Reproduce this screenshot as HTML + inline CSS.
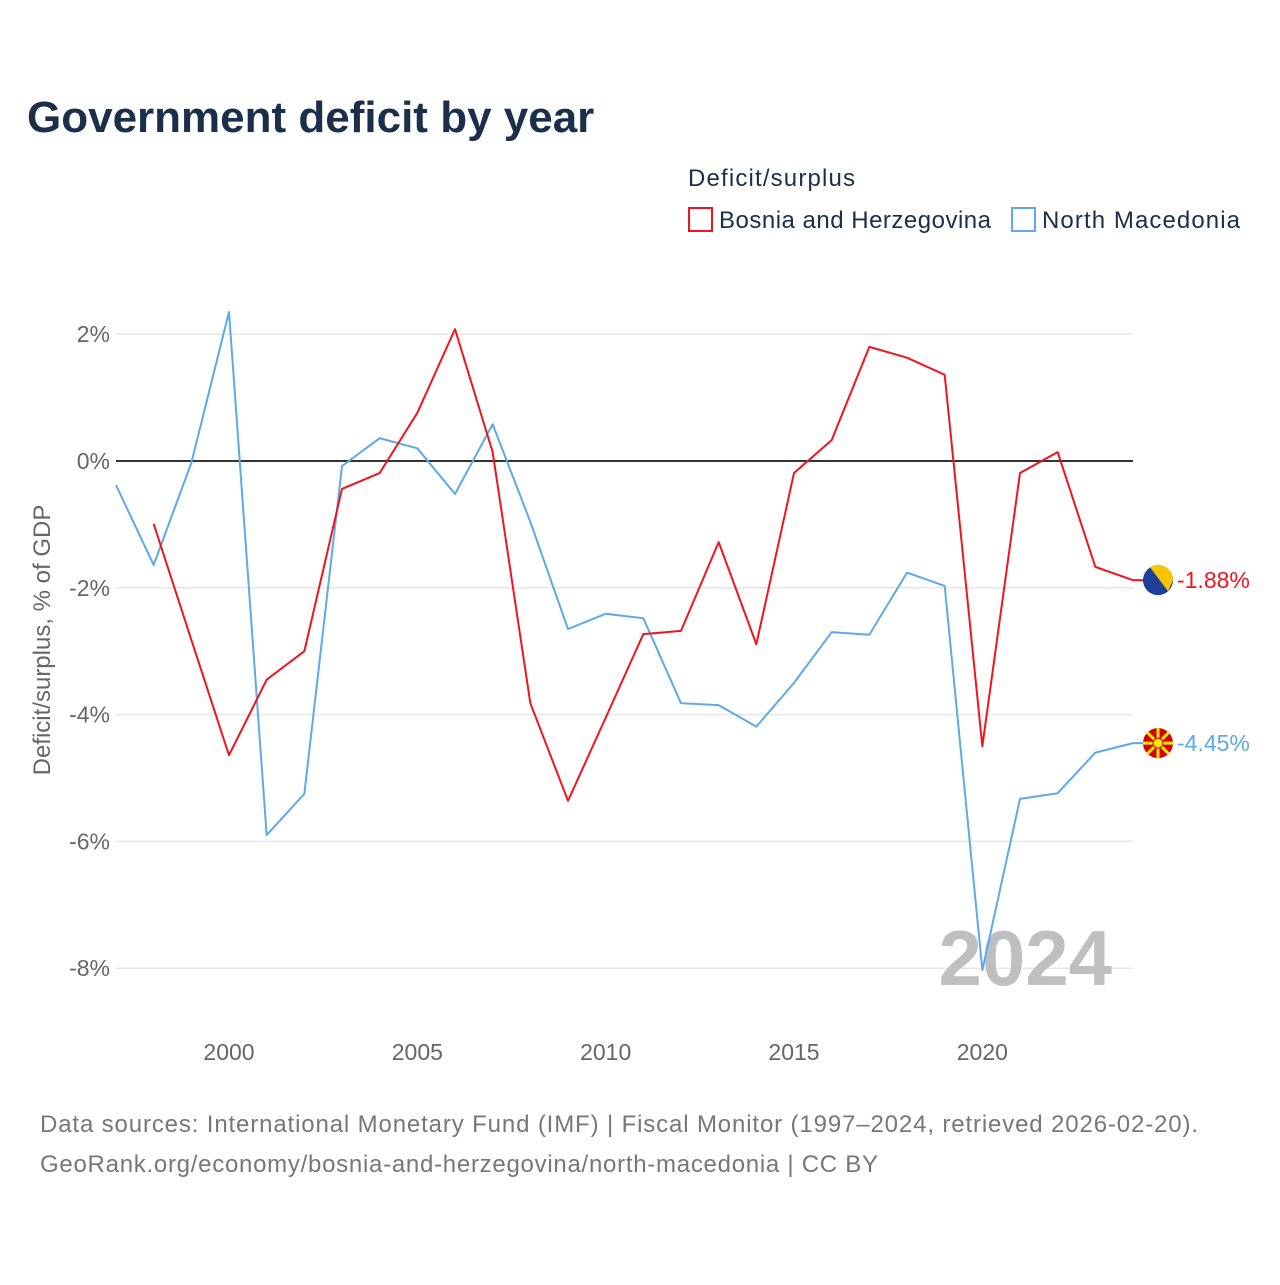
<!DOCTYPE html>
<html>
<head>
<meta charset="utf-8">
<style>
html,body{margin:0;padding:0;background:#fff;}
body{width:1280px;height:1280px;overflow:hidden;font-family:"Liberation Sans",sans-serif;}
</style>
</head>
<body>
<svg id="chart" width="1280" height="1280" xmlns="http://www.w3.org/2000/svg" font-family="Liberation Sans, sans-serif">
  <text x="27" y="132" font-size="44" font-weight="bold" fill="#1b2f4b">Government deficit by year</text>
  <text x="688" y="186" font-size="24" fill="#1b2f4b" textLength="167">Deficit/surplus</text>
  <g>
    <rect x="689" y="208" width="23" height="23" fill="none" stroke="#f0141e" stroke-width="2"/>
    <text x="719" y="228" font-size="24" fill="#1b2f4b" textLength="272">Bosnia and Herzegovina</text>
  </g>
  <g>
    <rect x="1012" y="208" width="23" height="23" fill="none" stroke="#5ea8ec" stroke-width="2"/>
    <text x="1042" y="228" font-size="24" fill="#1b2f4b" textLength="198">North Macedonia</text>
  </g>
  <g id="grid"></g>
  <g id="yticks"></g>
  <g id="xticks"></g>
  <text transform="translate(50,640) rotate(-90)" text-anchor="middle" font-size="24" fill="#666">Deficit/surplus, % of GDP</text>
  <text x="1112" y="985" text-anchor="end" font-size="78" font-weight="bold" fill="#bfbfbf">2024</text>
  <g id="series"></g>
  <g id="ends"></g>
  <text x="40" y="1132" font-size="24" fill="#777" textLength="1158">Data sources: International Monetary Fund (IMF) | Fiscal Monitor (1997–2024, retrieved 2026-02-20).</text>
  <text x="40" y="1172" font-size="24" fill="#777" textLength="838">GeoRank.org/economy/bosnia-and-herzegovina/north-macedonia | CC BY</text>
</svg>
<script>
const yTicks = [2, 0, -2, -4, -6, -8];
const xTickYears = [2000, 2005, 2010, 2015, 2020];
const macedoniaYears = [1997,1998,1999,2000,2001,2002,2003,2004,2005,2006,2007,2008,2009,2010,2011,2012,2013,2014,2015,2016,2017,2018,2019,2020,2021,2022,2023,2024];
const macedoniaValues = [-0.38,-1.64,-0.03,2.35,-5.9,-5.25,-0.08,0.36,0.2,-0.52,0.58,-0.96,-2.65,-2.41,-2.48,-3.82,-3.85,-4.19,-3.5,-2.7,-2.74,-1.76,-1.97,-8.03,-5.33,-5.24,-4.6,-4.45];
const bosniaYears = [1998,1999,2000,2001,2002,2003,2004,2005,2006,2007,2008,2009,2010,2011,2012,2013,2014,2015,2016,2017,2018,2019,2020,2021,2022,2023,2024];
const bosniaValues = [-0.99,-2.82,-4.64,-3.45,-3.0,-0.44,-0.19,0.76,2.08,0.14,-3.82,-5.36,-4.05,-2.73,-2.68,-1.28,-2.89,-0.19,0.33,1.8,1.63,1.36,-4.5,-0.19,0.14,-1.67,-1.88];

const NS='http://www.w3.org/2000/svg';
const X0=116, X1=1133, Y0=461, PPU=63.4;
const xs = yr => X0 + (yr-1997)*(X1-X0)/27;
const ys = v => Y0 - v*PPU;
function mk(tag, attrs, parent){const e=document.createElementNS(NS,tag);for(const k in attrs)e.setAttribute(k,attrs[k]);parent.appendChild(e);return e;}

const grid=document.getElementById('grid'), yt=document.getElementById('yticks'), xt=document.getElementById('xticks');
yTicks.forEach(v=>{
  if(v!==0){const l=mk('line',{x1:X0,x2:X1,y1:ys(v),y2:ys(v),stroke:'#e6e6e6','stroke-width':1.5},grid);
  
  }
  const t=mk('text',{x:110,y:ys(v)+8,'text-anchor':'end','font-size':23,fill:'#666'},yt);
  t.textContent=v+'%';
  
  
});
const zl=mk('line',{x1:X0,x2:X1,y1:ys(0),y2:ys(0),stroke:'#333','stroke-width':2},grid);


xTickYears.forEach(yr=>{
  const t=mk('text',{x:xs(yr),y:1060,'text-anchor':'middle','font-size':23,fill:'#666'},xt);
  t.textContent=yr;
  
  
});
const ser=document.getElementById('series');
function line(years, vals, color, name){
  const p=mk('polyline',{points:years.map((y,i)=>xs(y)+','+ys(vals[i])).join(' '),fill:'none',stroke:color,'stroke-width':2,'stroke-linejoin':'round'},ser);
  
  
}
line(macedoniaYears, macedoniaValues, '#5ea8ec', 'north-macedonia-line');
line(bosniaYears, bosniaValues, '#f0141e', 'bosnia-line');

const ends=document.getElementById('ends');
function endLabel(years, vals, color, name, flag){
  const v=vals[vals.length-1], y=ys(v), x=xs(years[years.length-1]);
  const ln=mk('line',{x1:x,x2:x+12,y1:y,y2:y,stroke:color,'stroke-width':2},ends);
  
  
  const g=mk('g',{},ends);
  
  
  flag(g, x+25, y);
  const t=mk('text',{x:x+44,y:y+8,'font-size':23,fill:color},ends);
  t.textContent=v.toFixed(2)+'%';
  
  
}
endLabel(bosniaYears, bosniaValues, '#f0141e', 'bosnia', (g,cx,cy)=>{
  mk('circle',{cx,cy,r:15,fill:'#1c3f9a'},g);
  mk('path',{d:`M${cx-8} ${cy-13} A15 15 0 0 1 ${cx+15} ${cy} L${cx+10} ${cy+11} Z`,fill:'#f8c300'},g);
});
endLabel(macedoniaYears, macedoniaValues, '#5ea8ec', 'north-macedonia', (g,cx,cy)=>{
  mk('circle',{cx,cy,r:15,fill:'#d20000'},g);
  for(let a=0;a<8;a++){const an=a*Math.PI/4;mk('line',{x1:cx,y1:cy,x2:cx+15*Math.cos(an),y2:cy+15*Math.sin(an),stroke:'#ffe600','stroke-width':3},g);}
  mk('circle',{cx,cy,r:5,fill:'#ffe600',stroke:'#d20000','stroke-width':1},g);
});
</script>
</body>
</html>
